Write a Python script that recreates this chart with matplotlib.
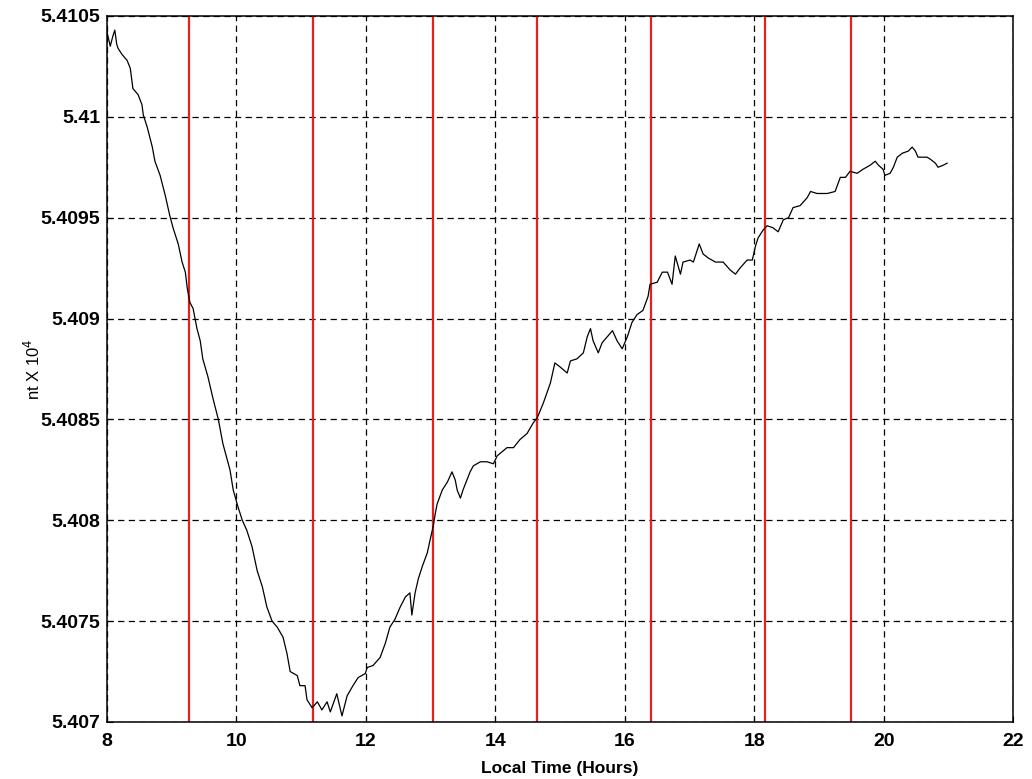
import matplotlib.pyplot as plt

plt.rcParams['font.family'] = ['Liberation Sans', 'DejaVu Sans']

# local time (hours) and field reading (nT x 10^4)
hours = [8.00, 8.05, 8.09, 8.12, 8.15, 8.17, 8.23, 8.31, 8.36, 8.40, 8.48, 8.54, 8.56,
         8.62, 8.66, 8.70, 8.74, 8.82, 8.90, 8.97, 9.02, 9.10, 9.16, 9.21, 9.24, 9.28,
         9.33, 9.39, 9.44, 9.48, 9.56, 9.64, 9.72, 9.79, 9.90, 9.95, 10.02, 10.09,
         10.16, 10.24, 10.32, 10.40, 10.47, 10.55, 10.63, 10.72, 10.78, 10.83, 10.94,
         10.98, 11.06, 11.09, 11.17, 11.25, 11.32, 11.40, 11.45, 11.55, 11.63, 11.71,
         11.80, 11.88, 11.99, 12.02, 12.11, 12.22, 12.30, 12.37, 12.45, 12.53, 12.61,
         12.68, 12.71, 12.76, 12.81, 12.87, 12.95, 12.99, 13.04, 13.07, 13.10, 13.18,
         13.26, 13.33, 13.38, 13.41, 13.46, 13.50, 13.61, 13.66, 13.77, 13.87, 13.97,
         14.03, 14.18, 14.28, 14.38, 14.49, 14.58, 14.65, 14.74, 14.85, 14.92, 15.00,
         15.11, 15.16, 15.26, 15.36, 15.42, 15.47, 15.51, 15.59, 15.65, 15.73, 15.81,
         15.88, 15.96, 16.04, 16.11, 16.19, 16.28, 16.36, 16.39, 16.50, 16.58, 16.66,
         16.73, 16.78, 16.86, 16.90, 17.01, 17.06, 17.15, 17.21, 17.29, 17.40, 17.52,
         17.63, 17.71, 17.78, 17.89, 17.97, 18.02, 18.06, 18.14, 18.20, 18.29, 18.37,
         18.45, 18.53, 18.60, 18.71, 18.82, 18.87, 18.97, 19.13, 19.25, 19.33, 19.41,
         19.48, 19.59, 19.68, 19.79, 19.87, 19.92, 19.99, 20.02, 20.10, 20.15, 20.21,
         20.29, 20.38, 20.44, 20.49, 20.53, 20.67, 20.72, 20.80, 20.84, 20.92, 20.98]

field = [5.41042, 5.41035, 5.41040, 5.41043, 5.41036, 5.41034, 5.41031, 5.41028, 5.41024,
         5.41014, 5.41011, 5.41006, 5.41001, 5.40995, 5.40990, 5.40985, 5.40978, 5.40971,
         5.40961, 5.40951, 5.40945, 5.40937, 5.40928, 5.40923, 5.40915, 5.40908, 5.40905,
         5.40895, 5.40889, 5.40880, 5.40871, 5.40860, 5.40850, 5.40838, 5.40825, 5.40815,
         5.40807, 5.40800, 5.40795, 5.40787, 5.40775, 5.40767, 5.40757, 5.40750, 5.40747,
         5.40742, 5.40734, 5.40725, 5.40723, 5.40718, 5.40718, 5.40711, 5.40707, 5.40710,
         5.40706, 5.40710, 5.40705, 5.40714, 5.40703, 5.40713, 5.40718, 5.40722, 5.40724,
         5.40727, 5.40728, 5.40732, 5.40739, 5.40747, 5.40751, 5.40757, 5.40762, 5.40764,
         5.40753, 5.40764, 5.40771, 5.40777, 5.40784, 5.40790, 5.40797, 5.40803, 5.40808,
         5.40815, 5.40819, 5.40824, 5.40820, 5.40815, 5.40811, 5.40815, 5.40824, 5.40827,
         5.40829, 5.40829, 5.40828, 5.40832, 5.40836, 5.40836, 5.40840, 5.40843, 5.40848,
         5.40851, 5.40858, 5.40868, 5.40878, 5.40876, 5.40873, 5.40879, 5.40880, 5.40883,
         5.40891, 5.40895, 5.40889, 5.40883, 5.40888, 5.40891, 5.40894, 5.40889, 5.40885,
         5.40891, 5.40898, 5.40902, 5.40904, 5.40911, 5.40917, 5.40918, 5.40923, 5.40923,
         5.40917, 5.40931, 5.40922, 5.40928, 5.40929, 5.40928, 5.40937, 5.40932, 5.40930,
         5.40928, 5.40928, 5.40924, 5.40922, 5.40925, 5.40929, 5.40929, 5.40936, 5.40940,
         5.40944, 5.40946, 5.40945, 5.40943, 5.40949, 5.40950, 5.40955, 5.40956, 5.40960,
         5.40963, 5.40962, 5.40962, 5.40963, 5.40970, 5.40970, 5.40973, 5.40972, 5.40974,
         5.40976, 5.40978, 5.40976, 5.40974, 5.40971, 5.40972, 5.40975, 5.40980, 5.40982,
         5.40983, 5.40985, 5.40983, 5.40980, 5.40980, 5.40979, 5.40977, 5.40975, 5.40976,
         5.40977]

# event markers
events = [9.27, 11.18, 13.04, 14.65, 16.40, 18.17, 19.50]

xticks = [8, 10, 12, 14, 16, 18, 20, 22]
yticks = [5.407, 5.4075, 5.408, 5.4085, 5.409, 5.4095, 5.41, 5.4105]
ylabels = ['5.407', '5.4075', '5.408', '5.4085', '5.409', '5.4095', '5.41', '5.4105']

fig = plt.figure(figsize=(10.32, 7.79), dpi=100)
ax = fig.add_axes([0.1037, 0.0732, 0.878, 0.9063])

for t in events:
    ax.axvline(t, color='#e8201c', lw=1.6, zorder=2)

ax.plot(hours, field, color='black', lw=0.9, zorder=3)

ax.set_xlim(8, 22)
ax.set_ylim(5.407, 5.4105)
ax.set_xticks(xticks)
ax.set_xticklabels([str(v) for v in xticks])
ax.set_yticks(yticks)
ax.set_yticklabels(ylabels)
ax.tick_params(direction='in', length=4, labelsize=14)
ax.tick_params(axis='x', pad=8)
ax.tick_params(axis='y', pad=5)
for lab in ax.get_xticklabels() + ax.get_yticklabels():
    lab.set_fontweight('bold')

ax.grid(True, color='black', linestyle=(0, (5, 3.5)), lw=0.9, zorder=1)
ax.set_axisbelow(True)
for s in ax.spines.values():
    s.set_linewidth(1.1)

ax.set_xlabel('Local Time (Hours)', fontsize=12.5, fontweight='bold', labelpad=8)
ax.set_ylabel('nt X 10$^4$', fontsize=12, labelpad=-2)

fig.savefig('out.png', dpi=100)
